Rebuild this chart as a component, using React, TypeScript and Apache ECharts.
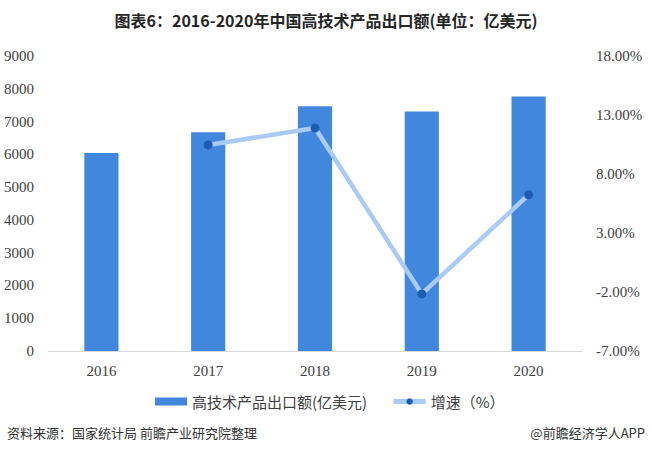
import React, { useEffect, useRef } from "react";
import * as echarts from "echarts";

const years = ["2016", "2017", "2018", "2019", "2020"];
const exportValues = [6042, 6674, 7468, 7307, 7763];
const growthRates: (number | null)[] = [null, 10.46, 11.9, -2.16, 6.24];
const leftTicks = { min: 0, max: 9000, interval: 1000 };
const rightTicks = { min: -7, max: 18, interval: 5 };

const titleText = "图表6：2016-2020年中国高技术产品出口额(单位：亿美元)";
const barName = "高技术产品出口额(亿美元)";
const lineName = "增速（%）";
const sourceText = "资料来源：国家统计局 前瞻产业研究院整理";
const brandText = "@前瞻经济学人APP";

export default function App() {
  const ref = useRef<HTMLDivElement>(null);
  useEffect(() => {
    if (!ref.current) return;
    const chart = echarts.init(ref.current, null, { renderer: "svg" });
    const offset = -rightTicks.min;
    const serif = "'Liberation Serif', 'Times New Roman', serif";
    const sans = "'Noto Sans CJK SC', 'Noto Sans', sans-serif";
    chart.setOption({
      animation: false,
      backgroundColor: "#ffffff",
      title: {
        text: titleText,
        left: "center",
        top: 7,
        textStyle: { fontSize: 16, fontWeight: "bold", color: "#262626", fontFamily: sans },
      },
      grid: { left: 48, right: 70, top: 56, bottom: 109, containLabel: false },
      legend: {
        bottom: 46,
        left: 150,
        itemGap: 24,
        itemWidth: 32,
        itemHeight: 8,
        textStyle: { fontSize: 15, color: "#404040", fontFamily: sans },
        data: [
          { name: barName, icon: "rect" },
          { name: lineName, lineStyle: { width: 5, color: "#a9cbf5" } },
        ],
      },
      xAxis: {
        type: "category",
        data: years,
        axisLine: { lineStyle: { color: "#d9d9d9", width: 1 } },
        axisTick: { show: false },
        axisLabel: { fontSize: 15, color: "#404040", fontFamily: serif, margin: 12 },
      },
      yAxis: [
        {
          type: "value",
          min: leftTicks.min,
          max: leftTicks.max,
          interval: leftTicks.interval,
          splitLine: { show: false },
          axisLine: { show: false },
          axisTick: { show: false },
          axisLabel: {
            fontSize: 15,
            color: "#404040",
            fontFamily: serif,
            margin: 14,
            formatter: (v: number) => String(v),
          },
        },
        {
          type: "value",
          min: 0,
          max: rightTicks.max - rightTicks.min,
          interval: rightTicks.interval,
          splitLine: { show: false },
          axisLine: { show: false },
          axisTick: { show: false },
          axisLabel: {
            fontSize: 15,
            color: "#404040",
            fontFamily: serif,
            margin: 14,
            formatter: (v: number) => (v - offset).toFixed(2) + "%",
          },
        },
      ],
      series: [
        {
          name: barName,
          type: "bar",
          data: exportValues,
          barWidth: "32%",
          itemStyle: { color: "#4287de" },
        },
        {
          name: lineName,
          type: "line",
          yAxisIndex: 1,
          data: growthRates.map((g) => (g === null ? "-" : g + offset)),
          symbol: "circle",
          symbolSize: 9,
          lineStyle: { color: "#a9cbf5", width: 4.5 },
          itemStyle: { color: "#1f5db5" },
        },
      ],
      graphic: [
        {
          type: "text",
          left: 7,
          top: 426,
          style: { text: sourceText, fontSize: 13, fill: "#333333", fontFamily: sans },
        },
        {
          type: "text",
          right: 7,
          top: 426,
          style: { text: brandText, fontSize: 13, fill: "#333333", fontFamily: sans },
        },
      ],
    });
    return () => chart.dispose();
  }, []);
  return (
    <div
      ref={ref}
      style={{ position: "fixed", left: 0, top: 0, width: 652, height: 460 }}
    />
  );
}
